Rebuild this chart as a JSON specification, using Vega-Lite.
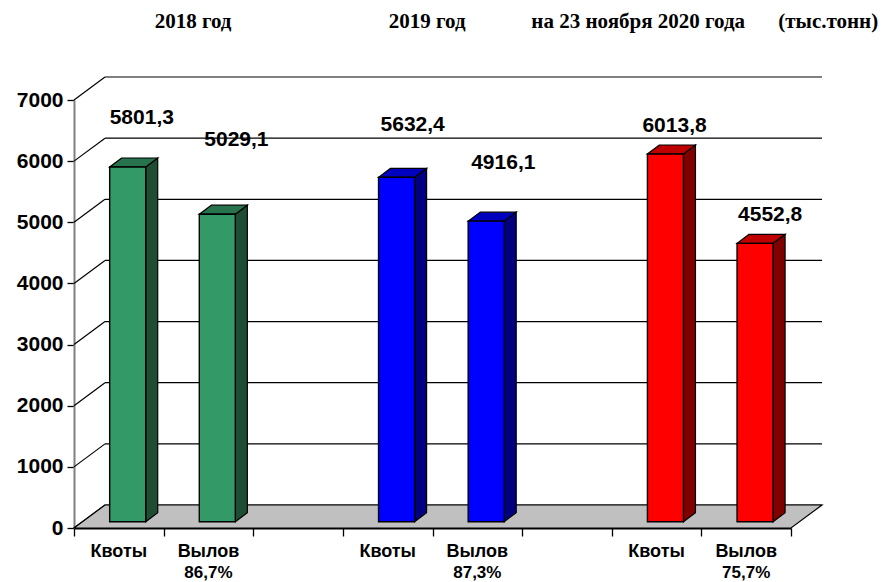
{"$schema":"https://vega.github.io/schema/vega-lite/v6.json","width":717,"height":428,"autosize":"none","padding":{"left":74,"top":100,"right":92,"bottom":54},"background":"white","view":{"stroke":null},
"datasets":{"bars":[{"year":"2018","kind":"Квоты","value":5801.3,"share":""},{"year":"2018","kind":"Вылов","value":5029.1,"share":"86,7%"},{"year":"2019","kind":"Квоты","value":5632.4,"share":""},{"year":"2019","kind":"Вылов","value":4916.1,"share":"87,3%"},{"year":"2020","kind":"Квоты","value":6013.8,"share":""},{"year":"2020","kind":"Вылов","value":4552.8,"share":"75,7%"}],
"levels":[{"level":0},{"level":1000},{"level":2000},{"level":3000},{"level":4000},{"level":5000},{"level":6000},{"level":7000}]},
"data":{"name":"bars"},
"transform":[{"calculate":"(toNumber(datum.year)-2018)*3+(datum.kind==='Вылов'?1:0)","as":"slot"},{"calculate":"datum.value+103","as":"topv"},{"calculate":"datum.slot+0.398","as":"xl"},{"calculate":"datum.slot+0.8","as":"xr"},{"calculate":"datum.slot+0.6","as":"xc"},{"calculate":"datum.slot+0.5","as":"xm"},{"calculate":"replace(format(datum.value,'.1f'),'.',',')","as":"label"}],
"layer":[
{"data":{"name":"levels"},"transform":[{"calculate":"8+0.346","as":"xe"},{"calculate":"0.346","as":"xs"},{"calculate":"datum.level+376","as":"yb"}],"mark":{"type":"rule","color":"black","strokeWidth":1.2},"encoding":{
"x":{"field":"xs","type":"quantitative","scale":{"domain":[0,8],"nice":false,"zero":false},"axis":{"title":null,"values":[0,1,2,3,4,5,6,7,8],"labels":false,"grid":false,"tickColor":"black","tickSize":8,"tickWidth":1.3,"domainColor":"black","domainWidth":2}},
"x2":{"field":"xe"},
"y":{"field":"yb","type":"quantitative","scale":{"domain":[0,7000],"nice":false},"axis":{"title":null,"values":[0,1000,2000,3000,4000,5000,6000,7000],"format":"d","grid":false,"tickColor":"black","tickSize":7,"tickWidth":1.3,"domainColor":"#808080","domainWidth":2,"labelFont":"Liberation Sans","labelFontWeight":"bold","labelFontSize":21,"labelColor":"black","labelPadding":4}}}},
{"data":{"name":"levels"},"transform":[{"filter":"datum.level===7000"},{"calculate":"8+0.346","as":"xe"},{"calculate":"0.346","as":"xs"},{"calculate":"datum.level+376","as":"yb"}],"mark":{"type":"rule","color":"#808080","strokeWidth":2},"encoding":{"x":{"field":"xs","type":"quantitative"},"x2":{"field":"xe"},"y":{"field":"yb","type":"quantitative"}}},
{"data":{"name":"levels"},"transform":[{"calculate":"0","as":"x0"},{"calculate":"0.346","as":"x1"},{"calculate":"datum.level+376","as":"yb"}],"mark":{"type":"rule","color":"black","strokeWidth":1.2},"encoding":{"x":{"field":"x0","type":"quantitative"},"x2":{"field":"x1"},"y":{"field":"level","type":"quantitative"},"y2":{"field":"yb"}}},
{"data":{"values":[{"edge":0},{"edge":1}]},"transform":[{"calculate":"datum.edge*376","as":"yf"},{"calculate":"datum.edge*0.346","as":"xa"},{"calculate":"8+datum.edge*0.346","as":"xb"}],"mark":{"type":"area","orient":"horizontal","fill":"#c0c0c0","stroke":"black","strokeWidth":1.2},"encoding":{"x":{"field":"xa","type":"quantitative"},"x2":{"field":"xb"},"y":{"field":"yf","type":"quantitative"}}},
{"transform":[{"calculate":"[0,1]","as":"t"},{"flatten":["t"]},{"calculate":"datum.xr+datum.t*0.134","as":"xs"},{"calculate":"103+147*datum.t","as":"ya"},{"calculate":"datum.topv+147*datum.t","as":"yb"}],"mark":{"type":"area","orient":"vertical","stroke":"black","strokeWidth":1.2},"encoding":{"x":{"field":"xs","type":"quantitative"},"y":{"field":"ya","type":"quantitative"},"y2":{"field":"yb"},"detail":{"field":"slot"},"fill":{"field":"year","type":"nominal","legend":null,"scale":{"domain":["2018","2019","2020"],"range":["#1f4d33","#000080","#800000"]}}}},
{"transform":[{"calculate":"[0,1]","as":"t"},{"flatten":["t"]},{"calculate":"datum.xl+datum.t*0.134","as":"xa"},{"calculate":"datum.xr+datum.t*0.134","as":"xb"},{"calculate":"datum.topv+147*datum.t","as":"yt"}],"mark":{"type":"area","orient":"horizontal","stroke":"black","strokeWidth":1.2},"encoding":{"x":{"field":"xa","type":"quantitative"},"x2":{"field":"xb"},"y":{"field":"yt","type":"quantitative"},"detail":{"field":"slot"},"fill":{"field":"year","type":"nominal","legend":null,"scale":{"domain":["2018","2019","2020"],"range":["#26734d","#0000bf","#bf0000"]}}}},
{"transform":[{"calculate":"103","as":"base"}],"mark":{"type":"rect","stroke":"black","strokeWidth":1.4},"encoding":{"x":{"field":"xl","type":"quantitative"},"x2":{"field":"xr"},"y":{"field":"base","type":"quantitative"},"y2":{"field":"topv"},"fill":{"field":"year","type":"nominal","legend":null,"scale":{"domain":["2018","2019","2020"],"range":["#339966","#0000ff","#ff0000"]}}}},
{"transform":[{"filter":"datum.slot===0"}],"mark":{"type":"text","font":"Liberation Sans","fontWeight":"bold","fontSize":21,"color":"black","baseline":"middle","dx":14,"dy":-49},"encoding":{"x":{"field":"xc","type":"quantitative"},"y":{"field":"topv","type":"quantitative"},"text":{"field":"label"}}},
{"transform":[{"filter":"datum.slot===1"}],"mark":{"type":"text","font":"Liberation Sans","fontWeight":"bold","fontSize":21,"color":"black","baseline":"middle","dx":19,"dy":-74},"encoding":{"x":{"field":"xc","type":"quantitative"},"y":{"field":"topv","type":"quantitative"},"text":{"field":"label"}}},
{"transform":[{"filter":"datum.slot===3"}],"mark":{"type":"text","font":"Liberation Sans","fontWeight":"bold","fontSize":21,"color":"black","baseline":"middle","dx":16,"dy":-52},"encoding":{"x":{"field":"xc","type":"quantitative"},"y":{"field":"topv","type":"quantitative"},"text":{"field":"label"}}},
{"transform":[{"filter":"datum.slot===4"}],"mark":{"type":"text","font":"Liberation Sans","fontWeight":"bold","fontSize":21,"color":"black","baseline":"middle","dx":17,"dy":-58},"encoding":{"x":{"field":"xc","type":"quantitative"},"y":{"field":"topv","type":"quantitative"},"text":{"field":"label"}}},
{"transform":[{"filter":"datum.slot===6"}],"mark":{"type":"text","font":"Liberation Sans","fontWeight":"bold","fontSize":21,"color":"black","baseline":"middle","dx":9,"dy":-28},"encoding":{"x":{"field":"xc","type":"quantitative"},"y":{"field":"topv","type":"quantitative"},"text":{"field":"label"}}},
{"transform":[{"filter":"datum.slot===7"}],"mark":{"type":"text","font":"Liberation Sans","fontWeight":"bold","fontSize":21,"color":"black","baseline":"middle","dx":15,"dy":-28},"encoding":{"x":{"field":"xc","type":"quantitative"},"y":{"field":"topv","type":"quantitative"},"text":{"field":"label"}}},
{"mark":{"type":"text","font":"Liberation Sans","fontWeight":"bold","fontSize":18,"color":"black","baseline":"middle","dy":24},"encoding":{"x":{"field":"xm","type":"quantitative"},"y":{"datum":0},"text":{"field":"kind"}}},
{"transform":[{"filter":"datum.share!==''"}],"mark":{"type":"text","font":"Liberation Sans","fontWeight":"bold","fontSize":17,"color":"black","baseline":"middle","dy":44.5},"encoding":{"x":{"field":"xm","type":"quantitative"},"y":{"datum":0},"text":{"field":"share"}}},
{"data":{"values":[{"header":"2018  год"}]},"mark":{"type":"text","font":"Liberation Serif","fontWeight":"bold","fontSize":21,"color":"black","baseline":"middle"},"encoding":{"x":{"datum":1.328},"y":{"datum":8276},"text":{"field":"header"}}},
{"data":{"values":[{"header":"2019  год"}]},"mark":{"type":"text","font":"Liberation Serif","fontWeight":"bold","fontSize":21,"color":"black","baseline":"middle"},"encoding":{"x":{"datum":3.94},"y":{"datum":8276},"text":{"field":"header"}}},
{"data":{"values":[{"header":"на 23 ноября 2020 года"}]},"mark":{"type":"text","font":"Liberation Serif","fontWeight":"bold","fontSize":21,"color":"black","baseline":"middle"},"encoding":{"x":{"datum":6.295},"y":{"datum":8276},"text":{"field":"header"}}},
{"data":{"values":[{"header":"(тыс.тонн)"}]},"mark":{"type":"text","font":"Liberation Serif","fontWeight":"bold","fontSize":21,"color":"black","baseline":"middle"},"encoding":{"x":{"datum":8.415},"y":{"datum":8276},"text":{"field":"header"}}}
],
"resolve":{"scale":{"fill":"independent"}}}
